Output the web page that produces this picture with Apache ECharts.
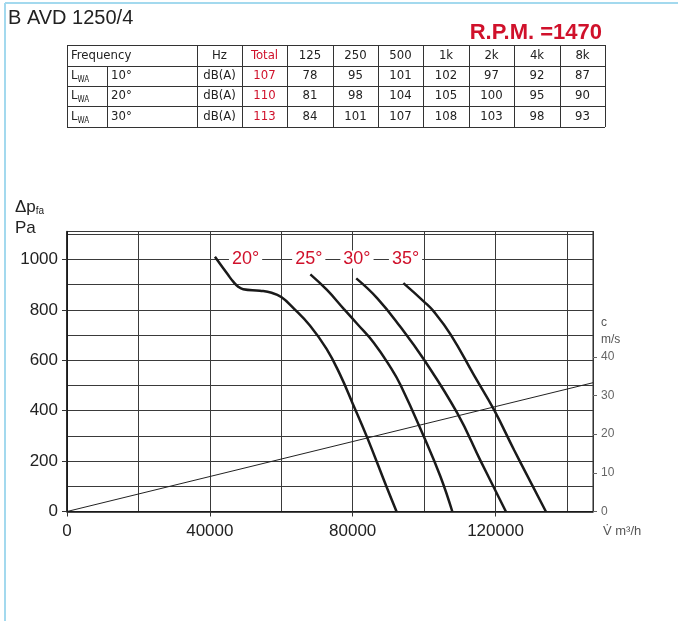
<!DOCTYPE html>
<html>
<head>
<meta charset="utf-8">
<script src="https://cdn.jsdelivr.net/npm/echarts@6/dist/echarts.min.js"></script>
<style>
  html, body { margin: 0; padding: 0; background: #fff; }
  #fanChart { width: 678px; height: 621px; }
</style>
</head>
<body>
<div id="fanChart"></div>
<script>
// ---- data ----
const modelName = 'B AVD 1250/4';
const rpm = 1470;

const bands = ['125', '250', '500', '1k', '2k', '4k', '8k'];
const rowAngles = ['10°', '20°', '30°'];
const totals = [107, 110, 113];
const levels10 = [78, 95, 101, 102, 97, 92, 87];
const levels20 = [81, 98, 104, 105, 100, 95, 90];
const levels30 = [84, 101, 107, 108, 103, 98, 93];

const flowTicks = [0, 40000, 80000, 120000];
const pressureTicks = [0, 200, 400, 600, 800, 1000];
const velocityTicks = [0, 10, 20, 30, 40];

// [flow m3/h, pressure Pa]
const curve20 = [[41430, 1011], [45150, 938], [46550, 912], [47950, 892], [49350, 882], [54020, 876], [57300, 868],
  [60100, 850], [63340, 808], [68020, 738], [72690, 645], [76410, 545], [80050, 427], [84050, 294],
  [89480, 98], [92280, 0]];
const curve25 = [[68150, 941], [72800, 879], [77500, 804], [81300, 744], [85900, 670], [90600, 572], [93400, 502],
  [99950, 297], [104600, 138], [107900, 0]];
const curve30 = [[81000, 925], [86900, 846], [93400, 732], [99950, 603], [109300, 390], [115850, 200], [122900, 0]];
const curve35 = [[94200, 906], [99950, 833], [102750, 793], [107450, 702], [114000, 540], [119600, 403],
  [125200, 244], [134100, 0]];

const angleNames = ['20°', '25°', '30°', '35°'];
const angleLabelFlow = [50000, 67700, 81200, 94800];

// outlet velocity c (m/s) against flow
const velocityLine = [[0, 0], [147300, 33.3]];

// ---- table graphics ----
const tableColX = [67, 107, 197, 242, 287, 333, 378, 423, 469, 514, 560, 605];
const tableRowY = [45, 66, 86, 106, 127];
const tableFont = '"Liberation Sans Narrow", "DejaVu Sans Condensed", "Liberation Sans", sans-serif';
const red = '#d0112b';
const ink = '#222';

function cellText(text, col, row, color, align) {
  const x0 = tableColX[col], x1 = tableColX[col + 1];
  const yc = (tableRowY[row] + tableRowY[row + 1]) / 2;
  return {
    type: 'text',
    x: align === 'left' ? x0 + 4 : (x0 + x1) / 2,
    y: yc,
    style: {
      text: text, fill: color || ink, font: '13px ' + tableFont,
      align: align || 'center', verticalAlign: 'middle'
    }
  };
}

const graphics = [];
// outer light blue frame
graphics.push({type: 'line', shape: {x1: 5, y1: 3, x2: 5, y2: 621}, style: {stroke: '#a3d9ee', lineWidth: 2}});
graphics.push({type: 'line', shape: {x1: 5, y1: 3, x2: 678, y2: 3}, style: {stroke: '#a3d9ee', lineWidth: 2}});

tableRowY.forEach(function (y) {
  graphics.push({type: 'line', shape: {x1: 67, y1: y + 0.5, x2: 605, y2: y + 0.5}, style: {stroke: '#333', lineWidth: 1}});
});
tableColX.forEach(function (x, i) {
  const top = i === 1 ? tableRowY[1] : tableRowY[0];
  graphics.push({type: 'line', shape: {x1: x + 0.5, y1: top, x2: x + 0.5, y2: tableRowY[4]}, style: {stroke: '#333', lineWidth: 1}});
});

graphics.push(cellText('Frequency', 0, 0, ink, 'left'));
graphics.push(cellText('Hz', 2, 0));
graphics.push(cellText('Total', 3, 0, red));
bands.forEach(function (b, j) { graphics.push(cellText(b, 4 + j, 0)); });

[levels10, levels20, levels30].forEach(function (row, r) {
  graphics.push({
    type: 'text', x: 71, y: (tableRowY[r + 1] + tableRowY[r + 2]) / 2,
    style: {
      text: 'L{s|WA}', font: '13px ' + tableFont, fill: ink, verticalAlign: 'middle',
      rich: {s: {fontSize: 8, fontFamily: tableFont, fill: ink, padding: [8, 0, 0, 0]}}
    }
  });
  graphics.push(cellText(rowAngles[r], 1, r + 1, ink, 'left'));
  graphics.push(cellText('dB(A)', 2, r + 1));
  graphics.push(cellText(String(totals[r]), 3, r + 1, red));
  row.forEach(function (v, j) { graphics.push(cellText(String(v), 4 + j, r + 1)); });
});

graphics.push({type: 'text', x: 8, y: 18, style: {text: modelName, font: '20px "Liberation Sans", Arial, sans-serif', fill: ink, verticalAlign: 'middle'}});
graphics.push({type: 'text', x: 602, y: 33, style: {text: 'R.P.M. =' + rpm, font: 'bold 22px "Liberation Sans", Arial, sans-serif', fill: red, align: 'right', verticalAlign: 'middle'}});

// axis names
graphics.push({
  type: 'text', x: 15, y: 207,
  style: {
    text: 'Δp{s|fa}', font: '17px "Liberation Sans", Arial, sans-serif', fill: ink, verticalAlign: 'middle',
    rich: {s: {fontSize: 10, fontFamily: 'Liberation Sans', fill: ink, padding: [8, 0, 0, 0]}}
  }
});
graphics.push({type: 'text', x: 15, y: 228, style: {text: 'Pa', font: '17px "Liberation Sans", Arial, sans-serif', fill: ink, verticalAlign: 'middle'}});
graphics.push({type: 'text', x: 601, y: 323, style: {text: 'c', font: '12px "Liberation Sans", Arial, sans-serif', fill: '#555', verticalAlign: 'middle'}});
graphics.push({type: 'text', x: 601, y: 340, style: {text: 'm/s', font: '12px "Liberation Sans", Arial, sans-serif', fill: '#555', verticalAlign: 'middle'}});
graphics.push({type: 'text', x: 603, y: 531, style: {text: 'V\u0307 m\u00b3/h', font: '13px "Liberation Sans", Arial, sans-serif', fill: '#555', verticalAlign: 'middle'}});

const curveStyle = {width: 2.5, color: '#1a1a1a'};
function curveSeries(data) {
  return {
    type: 'line', data: data, smooth: 0.45, showSymbol: false,
    lineStyle: curveStyle, silent: true, z: 5
  };
}
const plainNumber = function (v) { return String(v); };

const option = {
  animation: false,
  backgroundColor: '#fff',
  textStyle: {fontFamily: '"Liberation Sans", Arial, sans-serif'},
  grid: {
    left: 67, right: 85, top: 231.5, bottom: 109.5, outerBoundsMode: 'none', containLabel: false,
    show: true, borderColor: '#222', borderWidth: 1
  },
  xAxis: [{
    // grid lines every 20000
    type: 'value', min: 0, max: 147300, interval: 20000,
    axisLine: {show: true, onZero: false, lineStyle: {color: '#111', width: 1.5}},
    axisTick: {show: false},
    axisLabel: {show: false},
    splitLine: {show: true, lineStyle: {color: '#3a3a3a', width: 1}}
  }, {
    // labelled ticks every 40000
    type: 'value', min: 0, max: 147300, position: 'bottom',
    axisLine: {show: false, onZero: false},
    axisTick: {show: true, customValues: flowTicks, length: 5, lineStyle: {color: '#333'}},
    axisLabel: {customValues: flowTicks, fontSize: 17, color: ink, margin: 11, formatter: plainNumber},
    splitLine: {show: false}
  }],
  yAxis: [{
    // labelled pressure axis
    type: 'value', min: 0, max: 1111, position: 'left',
    axisLine: {show: true, onZero: false, lineStyle: {color: '#111', width: 1.5}},
    axisTick: {show: true, customValues: pressureTicks, length: 5, lineStyle: {color: '#333'}},
    axisLabel: {customValues: pressureTicks, fontSize: 17, color: ink, margin: 9, formatter: plainNumber},
    splitLine: {show: false}
  }, {
    type: 'value', min: 0, max: 72.4, position: 'right',
    axisLine: {show: true, onZero: false, lineStyle: {color: '#333', width: 1}},
    axisTick: {show: true, customValues: velocityTicks, length: 4, inside: false, lineStyle: {color: '#666'}},
    axisLabel: {customValues: velocityTicks, fontSize: 12, color: '#666', margin: 8, formatter: plainNumber},
    splitLine: {show: false}
  }, {
    // grid lines every 100 Pa
    type: 'value', min: 0, max: 1111, interval: 100, position: 'left',
    axisLine: {show: false, onZero: false},
    axisTick: {show: false},
    axisLabel: {show: false},
    splitLine: {show: true, lineStyle: {color: '#3a3a3a', width: 1}}
  }],
  graphic: graphics,
  series: [
    curveSeries(curve20),
    curveSeries(curve25),
    curveSeries(curve30),
    curveSeries(curve35),
    {
      type: 'line', yAxisIndex: 1, data: velocityLine, showSymbol: false, silent: true,
      lineStyle: {width: 1, color: '#222'}, z: 4
    },
    {
      type: 'scatter', symbolSize: 0, silent: true, z: 6,
      itemStyle: {opacity: 1},
      data: angleNames.map(function (n, i) { return {name: n, value: [angleLabelFlow[i], 1000]}; }),
      label: {
        show: true, position: 'inside', formatter: '{b}', color: red, fontSize: 18, opacity: 1,
        backgroundColor: '#fff', padding: [0, 3]
      }
    }
  ]
};

const fanChart = echarts.init(document.getElementById('fanChart'), null, {width: 678, height: 621});
fanChart.setOption(option);
</script>
</body>
</html>
